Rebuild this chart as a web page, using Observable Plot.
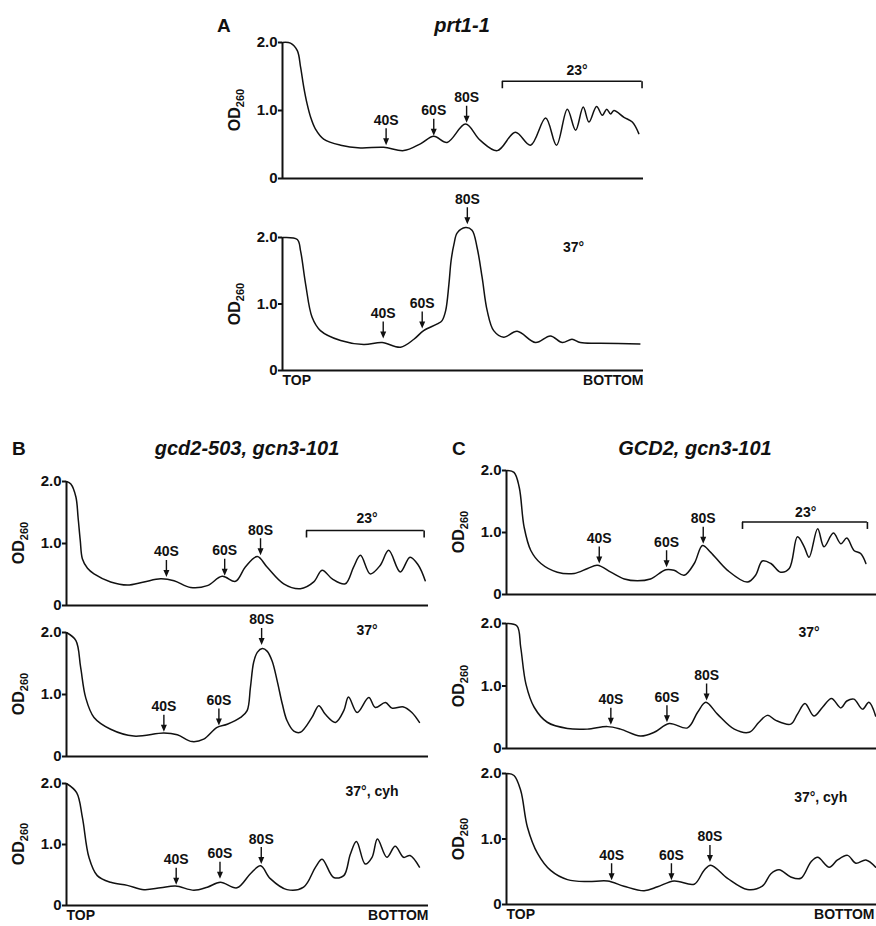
<!DOCTYPE html>
<html><head><meta charset="utf-8">
<script src="https://cdn.jsdelivr.net/npm/d3@7"></script>
<script src="https://cdn.jsdelivr.net/npm/@observablehq/plot@0.6"></script>
<style>
html,body{margin:0;padding:0;background:#fff;overflow:hidden;}
#fig{position:relative;width:876px;height:926px;overflow:hidden;font-family:"Liberation Sans",Arial,Helvetica,sans-serif;color:#111;background:#fff;}
.lbl{position:absolute;font-weight:bold;white-space:nowrap;line-height:1;}
.letter{font-size:19px;}
.title{font-size:20px;font-style:italic;transform:translateX(-50%);}
.od{font-size:16px;transform:translate(-50%,-50%) rotate(-90deg);}
.od sub{font-size:11px;vertical-align:-4px;}
</style></head><body><div id="fig"></div><script>
// ---------- data (x = % of gradient from top, y = OD260) ----------
const yTicks = [0, 1, 2];
const yTickLabels = ["0", "1.0", "2.0"];

const prt1_23 = [[0,2.0],[2.2,1.99],[4.1,1.88],[5.0,1.64],[5.9,1.34],[6.8,1.10],[7.8,0.90],[9.1,0.73],[11.4,0.58],[16.1,0.49],[21.6,0.45],[28.0,0.46],[33.6,0.41],[38.2,0.51],[41.9,0.62],[45.6,0.53],[50.7,0.80],[54.8,0.56],[59.5,0.41],[64.5,0.68],[68.7,0.49],[72.9,0.89],[75.9,0.49],[78.9,1.02],[81.2,0.71],[83.3,1.05],[84.9,0.83],[87.0,1.06],[88.6,0.93],[89.8,1.02],[90.9,0.95],[91.8,1.00],[94.6,0.90],[96.9,0.83],[98.7,0.66]];
const prt1_37 = [[0,2.0],[4.1,1.97],[5.0,1.80],[6.4,1.30],[8.2,0.80],[10.5,0.60],[16.1,0.45],[22.5,0.39],[27.6,0.42],[32.7,0.35],[36.4,0.47],[39.1,0.60],[42.9,0.70],[44.2,0.75],[45.2,0.90],[46.1,1.30],[46.7,1.65],[47.5,1.90],[48.4,2.07],[50.7,2.15],[52.5,2.11],[53.9,1.85],[55.3,1.40],[56.7,0.90],[58.5,0.60],[61.3,0.50],[65.0,0.59],[70.1,0.42],[74.2,0.52],[77.5,0.42],[80.2,0.47],[82.5,0.42],[88.1,0.41],[99.0,0.40]];
const gcd2_23 = [[0,2.0],[1.2,1.96],[2.6,1.75],[3.2,1.42],[3.8,1.05],[4.4,0.75],[5.8,0.60],[7.6,0.51],[12.2,0.38],[16.8,0.33],[21.4,0.38],[26.0,0.43],[29.7,0.40],[34.3,0.29],[38.9,0.32],[43.0,0.47],[46.7,0.39],[49.4,0.62],[52.7,0.79],[55.4,0.62],[60.0,0.35],[64.6,0.27],[68.3,0.38],[70.6,0.57],[73.4,0.43],[77.0,0.35],[79.3,0.62],[81.2,0.81],[83.9,0.51],[86.7,0.65],[89.0,0.89],[92.2,0.54],[94.9,0.78],[97.2,0.65],[99.1,0.40]];
const gcd2_37 = [[0,2.0],[2.6,1.87],[3.9,1.44],[5.3,0.95],[7.6,0.63],[12.2,0.44],[18.6,0.33],[26.9,0.38],[30.6,0.35],[34.7,0.24],[37.9,0.28],[41.6,0.47],[44.4,0.52],[48.1,0.63],[49.9,0.74],[50.8,1.11],[51.7,1.52],[52.7,1.68],[54.1,1.74],[55.4,1.70],[56.8,1.54],[58.2,1.22],[59.6,0.85],[60.9,0.58],[62.8,0.41],[64.6,0.39],[67.8,0.63],[69.7,0.82],[71.5,0.68],[74.3,0.55],[76.6,0.74],[77.9,0.96],[80.3,0.71],[83.5,0.95],[85.3,0.79],[88.1,0.87],[89.9,0.78],[93.1,0.80],[95.4,0.71],[97.5,0.55]];
const gcd2_37cyh = [[0,2.0],[2.8,1.85],[4.4,1.44],[6.2,0.79],[8.5,0.49],[12.2,0.38],[16.8,0.33],[21.4,0.26],[26.0,0.29],[30.1,0.32],[35.2,0.25],[38.9,0.30],[42.5,0.38],[47.1,0.29],[50.8,0.52],[53.6,0.65],[56.3,0.44],[60.9,0.26],[65.5,0.30],[68.8,0.63],[70.6,0.76],[73.8,0.46],[76.6,0.49],[78.4,0.84],[80.1,1.05],[82.5,0.68],[84.4,0.79],[85.9,1.09],[88.5,0.79],[90.8,0.97],[93.1,0.79],[94.9,0.82],[97.5,0.63]];
const GCD2_23 = [[0,2.0],[2.0,1.97],[3.4,1.73],[4.7,1.09],[6.5,0.71],[9.2,0.50],[13.6,0.36],[18.1,0.34],[21.7,0.42],[24.3,0.47],[27.9,0.36],[31.5,0.25],[35.0,0.22],[38.5,0.25],[42.6,0.40],[44.8,0.39],[47.5,0.31],[50.2,0.50],[52.4,0.79],[54.6,0.68],[59.1,0.39],[64.4,0.20],[66.6,0.31],[68.4,0.54],[70.7,0.50],[73.3,0.36],[75.6,0.42],[77.8,0.93],[79.6,0.77],[80.9,0.60],[83.2,1.06],[84.9,0.77],[87.4,0.99],[89.4,0.82],[91.0,0.91],[92.9,0.71],[94.7,0.66],[96.1,0.50]];
const GCD2_37 = [[0,2.0],[2.8,1.96],[3.8,1.62],[5.2,1.03],[7.4,0.66],[10.9,0.42],[16.3,0.32],[21.6,0.31],[27.0,0.35],[30.5,0.31],[35.8,0.20],[39.5,0.26],[43.5,0.40],[48.4,0.33],[51.1,0.58],[53.3,0.74],[56.4,0.55],[60.9,0.31],[64.9,0.26],[67.5,0.42],[69.8,0.53],[72.0,0.45],[76.0,0.39],[77.8,0.55],[79.8,0.72],[82.2,0.52],[84.5,0.66],[86.9,0.80],[89.4,0.65],[91.0,0.76],[92.9,0.79],[95.2,0.63],[96.9,0.74],[98.7,0.52]];
const GCD2_37cyh = [[0,2.0],[2.0,1.97],[3.8,1.74],[5.6,1.18],[8.3,0.78],[11.8,0.52],[16.3,0.38],[21.7,0.35],[27.0,0.36],[31.4,0.28],[36.8,0.21],[40.4,0.27],[44.8,0.36],[50.2,0.31],[52.8,0.52],[54.6,0.60],[59.1,0.40],[64.4,0.23],[68.4,0.28],[70.7,0.47],[72.9,0.53],[76.0,0.42],[78.7,0.40],[81.4,0.65],[83.2,0.72],[86.3,0.57],[88.5,0.68],[91.2,0.75],[93.4,0.63],[96.1,0.68],[98.7,0.57]];

// peak markers: gradient position and OD at arrow tip
const prt1_23_peaks = [{name:"40S",x:28.7,y:0.49},{name:"60S",x:41.9,y:0.63},{name:"80S",x:51.0,y:0.82}];
const prt1_37_peaks = [{name:"40S",x:27.9,y:0.48},{name:"60S",x:38.7,y:0.63},{name:"80S",x:51.2,y:2.20}];
const gcd2_23_peaks = [{name:"40S",x:27.6,y:0.46},{name:"60S",x:43.7,y:0.48},{name:"80S",x:53.6,y:0.81}];
const gcd2_37_peaks = [{name:"40S",x:26.9,y:0.40},{name:"60S",x:42.1,y:0.50},{name:"80S",x:53.9,y:1.80}];
const gcd2_37cyh_peaks = [{name:"40S",x:30.3,y:0.34},{name:"60S",x:42.4,y:0.44},{name:"80S",x:53.8,y:0.68}];
const GCD2_23_peaks = [{name:"40S",x:24.8,y:0.50},{name:"60S",x:42.8,y:0.44},{name:"80S",x:52.6,y:0.82}];
const GCD2_37_peaks = [{name:"40S",x:27.9,y:0.38},{name:"60S",x:42.9,y:0.42},{name:"80S",x:53.5,y:0.77}];
const GCD2_37cyh_peaks = [{name:"40S",x:28.1,y:0.37},{name:"60S",x:44.1,y:0.37},{name:"80S",x:54.4,y:0.65}];

// polysome brackets and condition labels
const prt1_bracket = {x1:60.9, x2:99.6, y:1.43};
const gcd2_bracket = {x1:66.3, x2:98.8, y:1.21};
const GCD2_bracket = {x1:63.1, x2:96.5, y:1.17};
const conditions = {
  prt1_23: {text:"23°", x:81.6, y:1.59},
  prt1_37: {text:"37°", x:80.6, y:1.85},
  gcd2_23: {text:"23°", x:83.0, y:1.40},
  gcd2_37: {text:"37°", x:83.0, y:2.04},
  gcd2_37cyh: {text:"37°, cyh", x:84.4, y:1.87},
  GCD2_23: {text:"23°", x:80.0, y:1.33},
  GCD2_37: {text:"37°", x:80.9, y:1.86},
  GCD2_37cyh: {text:"37°, cyh", x:84.0, y:1.64}
};
const panelLetters = ["A","B","C"];
const panelTitles = ["prt1-1","gcd2-503, gcn3-101","GCD2, gcn3-101"];
const axisEnds = ["TOP","BOTTOM"];

// ---------- layout (pixel frame of each plot) ----------
const layout = [
  {data:prt1_23, peaks:prt1_23_peaks, bracket:prt1_bracket, cond:conditions.prt1_23, xL:282, xR:643, y2:42, y0:178},
  {data:prt1_37, peaks:prt1_37_peaks, cond:conditions.prt1_37, xL:282, xR:643, y2:237, y0:370, ends:true, endShift:0},
  {data:gcd2_23, peaks:gcd2_23_peaks, bracket:gcd2_bracket, cond:conditions.gcd2_23, xL:66, xR:428, y2:481, y0:605},
  {data:gcd2_37, peaks:gcd2_37_peaks, cond:conditions.gcd2_37, xL:66, xR:428, y2:632, y0:756},
  {data:gcd2_37cyh, peaks:gcd2_37cyh_peaks, cond:conditions.gcd2_37cyh, xL:66, xR:428, y2:783, y0:905, ends:true, endShift:0},
  {data:GCD2_23, peaks:GCD2_23_peaks, bracket:GCD2_bracket, cond:conditions.GCD2_23, xL:506, xR:880, y2:470, y0:594},
  {data:GCD2_37, peaks:GCD2_37_peaks, cond:conditions.GCD2_37, xL:506, xR:880, y2:623, y0:748},
  {data:GCD2_37cyh, peaks:GCD2_37cyh_peaks, cond:conditions.GCD2_37cyh, xL:506, xR:880, y2:773, y0:904, ends:true, endShift:-6}
];
const headerPos = [
  {letterX:217, titleX:462, base:32},
  {letterX:12, titleX:247, base:455},
  {letterX:452, titleX:695, base:455}
];

const fig = document.getElementById("fig");
const FONT = '"Liberation Sans", Arial, Helvetica, sans-serif';

const arrowShape = {draw(ctx, l, r) {
  const hl = 7, s = 0.7;
  ctx.moveTo(-s, 0); ctx.lineTo(s, 0); ctx.lineTo(s, hl - l); ctx.lineTo(r, hl - l);
  ctx.lineTo(0, -l); ctx.lineTo(-r, hl - l); ctx.lineTo(-s, hl - l); ctx.closePath();
}};
const stemShape = {draw(ctx, l) { ctx.moveTo(0, 0); ctx.lineTo(0, -l); }};

function panel(p) {
  const mL = 50, mR = 12, mT = 50, mB = 26;
  const w = p.xR - p.xL, h = p.y0 - p.y2;
  const marks = [
    Plot.ruleY([0], {strokeWidth: 2.2}),
    Plot.ruleX([0], {y1: 0, y2: 2, strokeWidth: 2}),
    Plot.axisY({ticks: yTicks, tickFormat: d => yTickLabels[yTicks.indexOf(d)], tickSize: 4, tickPadding: 1, fontSize: 15, strokeWidth: 2, label: null}),
    Plot.line(p.data, {x: d => d[0], y: d => d[1], curve: "catmull-rom", strokeWidth: 1.5}),
    Plot.vector(p.peaks, {x: "x", y: "y", length: 17, r: 3, rotate: 180, anchor: "end", shape: arrowShape, fill: "currentColor", stroke: "none"}),
    Plot.text(p.peaks, {x: "x", y: "y", text: "name", dy: -25, fontSize: 14}),
    Plot.text([p.cond], {x: "x", y: "y", text: "text", fontSize: 14})
  ];
  if (p.bracket) {
    const b = p.bracket;
    marks.push(Plot.ruleY([b], {y: "y", x1: "x1", x2: "x2", strokeWidth: 1.6}));
    marks.push(Plot.vector([{x: b.x1, y: b.y}, {x: b.x2, y: b.y}], {x: "x", y: "y", length: 7, rotate: 180, anchor: "start", shape: stemShape, strokeWidth: 1.6, strokeLinecap: "butt"}));
  }
  if (p.ends) {
    marks.push(Plot.text([axisEnds[0]], {frameAnchor: "bottom-left", textAnchor: "start", dy: 14, fontSize: 14}));
    marks.push(Plot.text([axisEnds[1]], {frameAnchor: "bottom-right", textAnchor: "end", dy: 14, dx: p.endShift, fontSize: 14}));
  }
  const svg = Plot.plot({
    width: w + mL + mR, height: h + mT + mB,
    marginLeft: mL, marginRight: mR, marginTop: mT, marginBottom: mB,
    x: {domain: [0, 100], axis: null},
    y: {domain: [0, 2], axis: null},
    style: `background: transparent; overflow: visible; font-family: ${FONT}; font-weight: bold; color: #111; max-width: none;`,
    marks
  });
  svg.style.position = "absolute";
  svg.style.left = (p.xL - mL) + "px";
  svg.style.top = (p.y2 - mT) + "px";
  svg.style.background = "transparent";
  svg.style.overflow = "visible";
  svg.style.maxWidth = "none";
  fig.appendChild(svg);

  // y-axis label OD260
  const od = document.createElement("div");
  od.className = "lbl od";
  od.innerHTML = "OD<sub>260</sub>";
  od.style.left = (p.xL - 46) + "px";
  od.style.top = ((p.y0 + p.y2) / 2) + "px";
  fig.appendChild(od);
}
layout.forEach(panel);

panelLetters.forEach((L, i) => {
  const hp = headerPos[i];
  const a = document.createElement("div");
  a.className = "lbl letter"; a.textContent = L;
  a.style.left = hp.letterX + "px"; a.style.top = (hp.base - 0.85 * 19) + "px";
  fig.appendChild(a);
  const t = document.createElement("div");
  t.className = "lbl title"; t.textContent = panelTitles[i];
  t.style.left = hp.titleX + "px"; t.style.top = (hp.base - 0.85 * 20) + "px";
  fig.appendChild(t);
});
</script></body></html>
